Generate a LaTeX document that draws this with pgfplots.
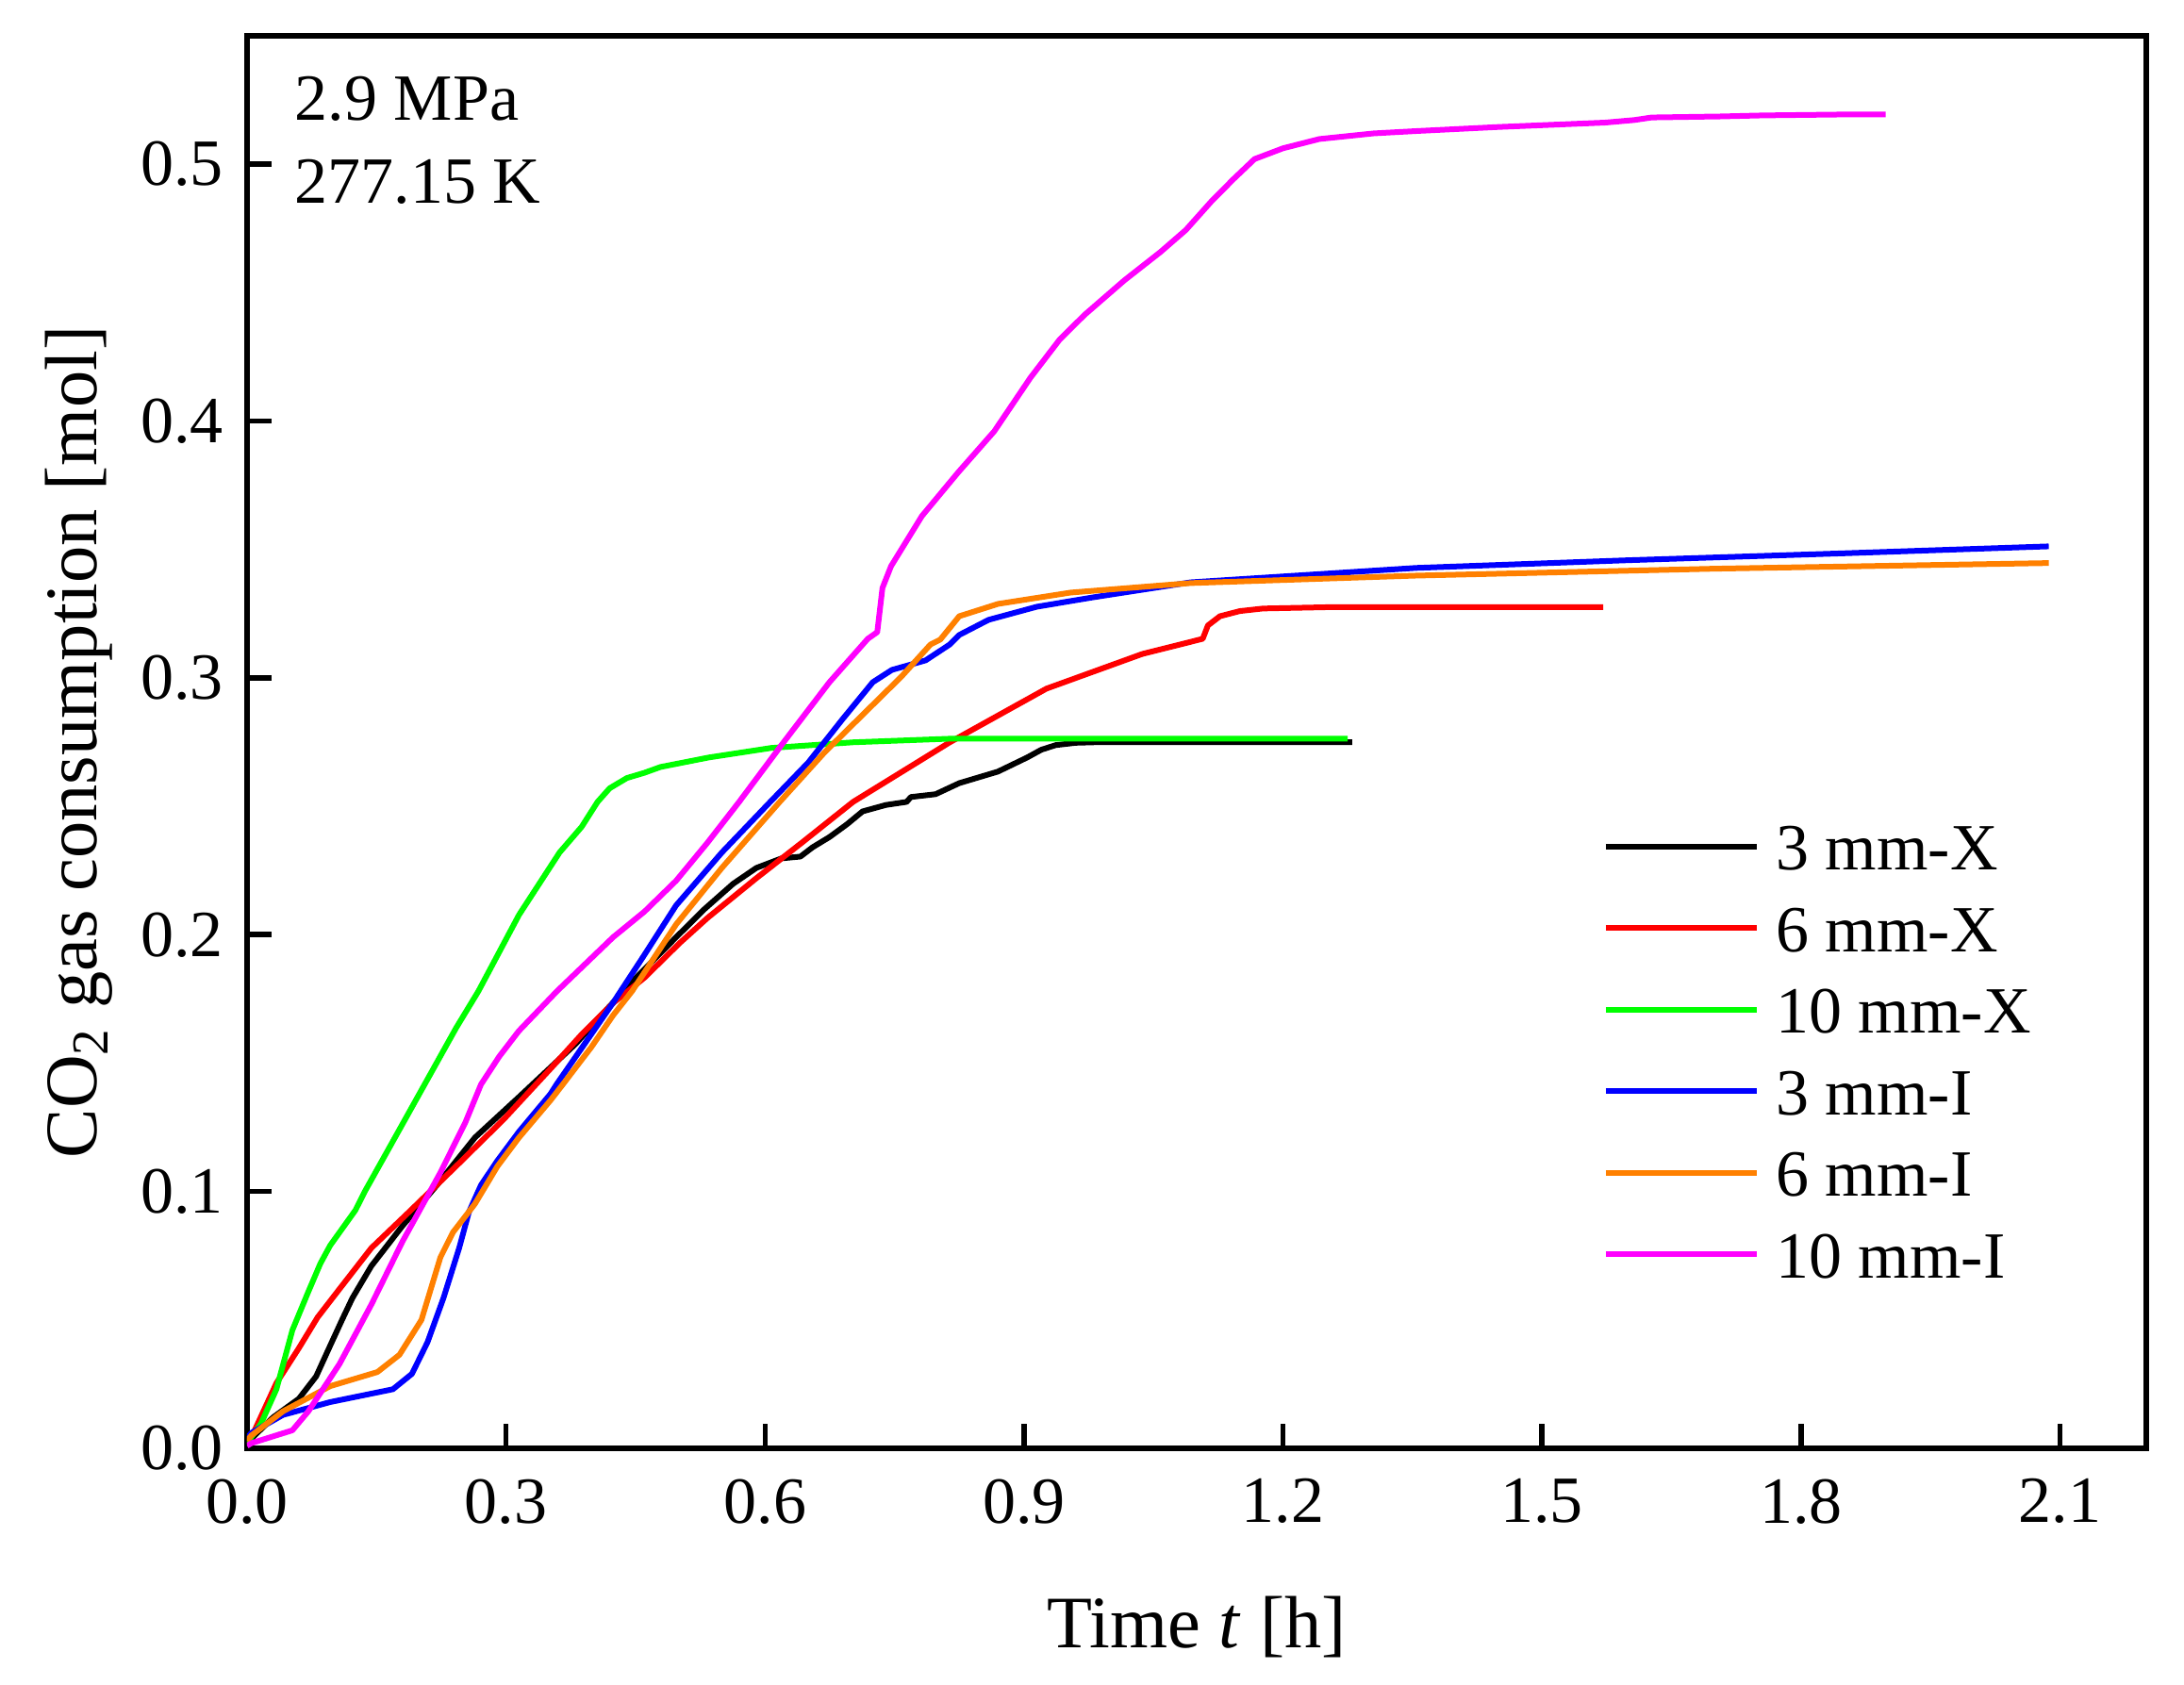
\documentclass[border=0pt]{standalone}
\usepackage{fontspec}
\setmainfont{Liberation Serif}
\usepackage{pgfplots}
\pgfplotsset{compat=1.18}
\definecolor{cgreen}{RGB}{0,255,0}
\definecolor{cred}{RGB}{255,0,0}
\definecolor{cblue}{RGB}{0,0,255}
\definecolor{corange}{RGB}{255,128,0}
\definecolor{cmag}{RGB}{255,0,255}
\begin{document}
\begin{tikzpicture}
\begin{axis}[
  width=402.8pt, height=299.6pt, scale only axis,
  xmin=0, xmax=2.2, ymin=0, ymax=0.55,
  xtick={0,0.3,0.6,0.9,1.2,1.5,1.8,2.1},
  ytick={0,0.1,0.2,0.3,0.4,0.5},
  minor tick num=0,
  axis line style={line width=1.1pt},
  tick style={line width=1.1pt, black},
  major tick length=5.2pt,
  tick align=inside,
  xtick pos=bottom, ytick pos=left,
  /pgf/number format/fixed,
  /pgf/number format/fixed zerofill,
  /pgf/number format/precision=1,
  /pgf/number format/assume math mode=true,
  ticklabel style={font=\fontsize{14}{16}\selectfont},
  xticklabel style={yshift=-3pt},
  yticklabel style={xshift=-1.5pt},
  xlabel={Time \textit{t} [h]},
  ylabel={CO\textsubscript{2} gas consumption [mol]},
  label style={font=\fontsize{15.7}{19}\selectfont},
  xlabel style={at={(axis description cs:0.5,-0.1415)}, anchor=base},
  ylabel style={at={(axis description cs:-0.079,0.5)}, anchor=base},
  legend style={at={(axis cs:1.5696,0.2438)}, anchor=north west, draw=none, fill=none,
    inner sep=0pt, row sep=7.3pt, column sep=3.5pt,
    font=\fontsize{14}{16}\selectfont,
    nodes={inner sep=0pt, text height=10pt, text depth=0pt}},
  legend cell align=left,
  legend image code/.code={\draw[#1] (0pt,0pt) -- (32pt,0pt);},
  every axis plot/.append style={line width=1.2pt, line join=round},
]
\addplot[color=black] coordinates {
(0,0.002) (0.0088,0.005) (0.03,0.012) (0.06,0.0193) (0.08,0.028) (0.0963,0.040)
(0.11,0.050) (0.122,0.0585) (0.144,0.071) (0.18,0.0866) (0.22,0.1025) (0.264,0.121)
(0.315,0.1368) (0.381,0.1576) (0.4136,0.1698) (0.45,0.183) (0.497,0.199) (0.53,0.210)
(0.563,0.2198) (0.59,0.226) (0.619,0.2297) (0.641,0.2304) (0.655,0.234) (0.6746,0.238)
(0.695,0.243) (0.713,0.248) (0.74,0.2505) (0.764,0.2517) (0.769,0.2536) (0.7976,0.2547)
(0.825,0.259) (0.8698,0.2635) (0.9037,0.269) (0.92,0.272) (0.9366,0.2738) (0.96,0.2747)
(0.981,0.2749) (1.28,0.2749)
};
\addlegendentry{3 mm-X}
\addplot[color=cred] coordinates {
(0,0.002) (0.0088,0.007) (0.034,0.0254) (0.060,0.039) (0.0817,0.051) (0.107,0.062)
(0.144,0.078) (0.1875,0.092) (0.242,0.1098) (0.297,0.128) (0.3515,0.1478) (0.3877,0.1612)
(0.4245,0.1735) (0.4605,0.1833) (0.501,0.1967) (0.5333,0.2065) (0.59,0.222) (0.6426,0.2358)
(0.702,0.2517) (0.814,0.2749) (0.926,0.2958) (1.037,0.3093) (1.107,0.3152) (1.113,0.3204)
(1.127,0.324) (1.15,0.326) (1.177,0.327) (1.25,0.3275) (1.571,0.3275)
};
\addlegendentry{6 mm-X}
\addplot[color=cgreen] coordinates {
(0,0.002) (0.016,0.0095) (0.034,0.023) (0.0525,0.046) (0.071,0.061) (0.085,0.072)
(0.0963,0.079) (0.1255,0.0927) (0.1364,0.100) (0.169,0.1196) (0.2057,0.1417) (0.2422,0.1637)
(0.268,0.178) (0.315,0.2077) (0.362,0.232) (0.3876,0.242) (0.406,0.2517) (0.42,0.257)
(0.44,0.261) (0.46,0.263) (0.479,0.2653) (0.535,0.269) (0.607,0.2727) (0.702,0.2749)
(0.814,0.2763) (1.275,0.2763)
};
\addlegendentry{10 mm-X}
\addplot[color=cblue] coordinates {
(0,0.004) (0.005,0.006) (0.0416,0.013) (0.0963,0.018) (0.169,0.023) (0.191,0.029)
(0.209,0.0413) (0.2275,0.0585) (0.2457,0.078) (0.257,0.092) (0.271,0.1025) (0.290,0.112)
(0.315,0.1233) (0.3515,0.138) (0.3585,0.1417) (0.39,0.157) (0.424,0.1735) (0.46,0.192)
(0.497,0.2114) (0.55,0.232) (0.606,0.2517) (0.65,0.267) (0.69,0.284) (0.7248,0.2983)
(0.747,0.3031) (0.786,0.3068) (0.814,0.313) (0.825,0.3167) (0.859,0.3226) (0.915,0.3277)
(0.981,0.3314) (1.093,0.3372) (1.354,0.3428) (1.6,0.3458) (1.85,0.3485) (2.087,0.3512)
};
\addlegendentry{3 mm-I}
\addplot[color=corange] coordinates {
(0,0.003) (0.005,0.005) (0.0416,0.0144) (0.0963,0.0242) (0.151,0.0297) (0.1765,0.0364)
(0.2020,0.050) (0.224,0.0744) (0.2385,0.0841) (0.264,0.0952) (0.290,0.1098) (0.315,0.121)
(0.3515,0.1355) (0.3658,0.1417) (0.399,0.1563) (0.424,0.1686) (0.446,0.178) (0.497,0.204)
(0.55,0.226) (0.617,0.2517) (0.669,0.271) (0.7248,0.2895) (0.758,0.3005) (0.7917,0.313)
(0.803,0.3149) (0.825,0.324) (0.87,0.3288) (0.954,0.3332) (1.093,0.3369) (1.354,0.3398)
(1.7,0.3425) (2.087,0.3447)
};
\addlegendentry{6 mm-I}
\addplot[color=cmag] coordinates {
(0,0.001) (0.005,0.002) (0.0525,0.007) (0.071,0.0144) (0.107,0.0328) (0.144,0.056)
(0.180,0.0805) (0.224,0.1074) (0.253,0.127) (0.271,0.1417) (0.292,0.1525) (0.3148,0.1625)
(0.359,0.178) (0.424,0.199) (0.4604,0.209) (0.497,0.221) (0.5333,0.2358) (0.570,0.2517)
(0.619,0.2738) (0.6746,0.2983) (0.719,0.3152) (0.730,0.3178) (0.736,0.335) (0.746,0.3435)
(0.7817,0.363) (0.8237,0.380) (0.8655,0.396) (0.9075,0.4169) (0.941,0.4316) (0.970,0.4413)
(1.0163,0.4548) (1.058,0.4658) (1.0875,0.4744) (1.1167,0.4854) (1.142,0.494) (1.167,0.502)
(1.200,0.5062) (1.242,0.5098) (1.305,0.512) (1.354,0.5129) (1.45,0.5145) (1.573,0.5162)
(1.607,0.5172) (1.627,0.5182) (1.707,0.5186) (1.756,0.519) (1.859,0.5194) (1.898,0.5194)
};
\addlegendentry{10 mm-I}
\node[anchor=base west, inner sep=0pt, font=\fontsize{14}{16}\selectfont] at (axis cs:0.0546,0.517) {2.9 MPa};
\node[anchor=base west, inner sep=0pt, font=\fontsize{14}{16}\selectfont] at (axis cs:0.0546,0.4848) {277.15 K};
\end{axis}
\pgfresetboundingbox
\path ([shift={(-52.4pt,-50.2pt)}]current axis.south west) rectangle ([shift={(8pt,7.6pt)}]current axis.north east);
\end{tikzpicture}
\end{document}
